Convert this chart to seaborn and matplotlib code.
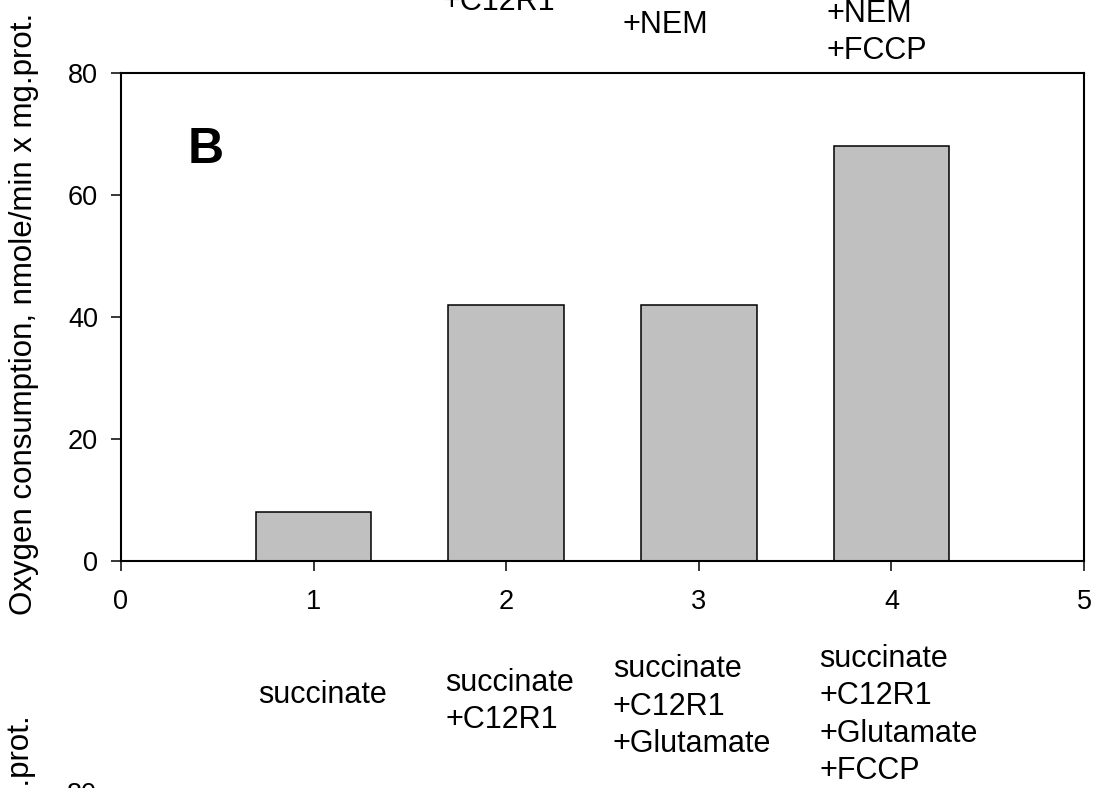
import matplotlib
matplotlib.use("Agg")
import matplotlib.pyplot as plt
import seaborn as sns
import pandas as pd
from matplotlib.transforms import blended_transform_factory

# ---- data ----
positions = [1, 2, 3, 4]
rates = [8, 42, 42, 68]
conditions = ["succinate",
              "succinate\n+C12R1",
              "succinate\n+C12R1\n+Glutamate",
              "succinate\n+C12R1\n+Glutamate\n+FCCP"]
x_ticks = [0, 1, 2, 3, 4, 5]
y_ticks = [0, 20, 40, 60, 80]
upper_panel_labels = ["+C12R1", "+NEM", "+NEM\n+FCCP"]
y_label = "Oxygen consumption, nmole/min x mg.prot."
panel_letter = "B"

# ---- style ----
sns.set_style("ticks")
plt.rcParams['font.family'] = ['Liberation Sans', 'DejaVu Sans']
plt.rcParams['text.color'] = 'black'
plt.rcParams['axes.labelcolor'] = 'black'
plt.rcParams['xtick.color'] = 'black'
plt.rcParams['ytick.color'] = 'black'

W, H = 1100, 788
fig = plt.figure(figsize=(W / 100, H / 100), dpi=100)
ax = fig.add_axes([121 / W, 1 - 561 / H, (1084 - 121) / W, (561 - 73) / H])

df = pd.DataFrame({"pos": positions, "rate": rates})
sns.barplot(data=df, x="pos", y="rate", native_scale=True, width=0.6,
            color="#C0C0C0", saturation=1, edgecolor="black", linewidth=1.1,
            ax=ax, zorder=2)

ax.set_xlim(0, 5)
ax.set_ylim(0, 80)
ax.set_xticks(x_ticks)
ax.set_yticks(y_ticks)
ax.set_xticklabels([str(t) for t in x_ticks])
ax.set_yticklabels([str(t) for t in y_ticks])
ax.set_xlabel("")
ax.set_ylabel(y_label, fontsize=22.5, color="black")
ax.yaxis.set_label_coords(-0.085, 0.507)

for s in ax.spines.values():
    s.set_visible(True)
    s.set_linewidth(1.5)
    s.set_color("black")
ax.tick_params(direction="out", length=7.5, width=1.1, labelsize=19.5,
               colors="black", labelcolor="black")
ax.tick_params(axis="x", pad=13)
ax.tick_params(axis="y", pad=9)

# panel letter
ax.text(0.347, 65.2, panel_letter, fontsize=36, fontweight="bold",
        va="baseline", ha="left", color="black")

# condition labels under the axis (baseline of the last line given)
tr = blended_transform_factory(ax.transData, fig.transFigure)
label_left = [0.71, 1.684, 2.554, 3.627]
label_last_base = [703, 728, 752, 779]
for txt, xl, yb in zip(conditions, label_left, label_last_base):
    fig.text(xl, 1 - yb / H, txt, transform=tr, ha="left", va="baseline",
             fontsize=22, linespacing=1.32, color="black")

# remnants of the panel above (cut by the figure edge)
upper_left = [1.668, 2.606, 3.663]
upper_last_base = [10, 33, 59]
for txt, xl, yb in zip(upper_panel_labels, upper_left, upper_last_base):
    fig.text(xl, 1 - yb / H, txt, transform=tr, ha="left", va="baseline",
             fontsize=22, linespacing=1.32, color="black")

# remnants of the panel below
fig.text(19 / W, 1 - 712 / H, "mg.prot.", rotation=90, ha="center", va="top",
         fontsize=22.5, color="black")
fig.text(97 / W, 1 - 782 / H, "80", ha="right", va="top", fontsize=19.5, color="black")

fig.savefig("out.png", dpi=100)
